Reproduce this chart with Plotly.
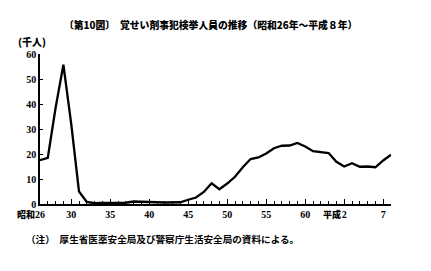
import plotly.graph_objects as go

years = list(range(1951, 1997))
arrests = [17.5, 18.5, 38.5, 55.7, 32.1, 5.0, 0.8, 0.3, 0.4, 0.5, 0.5, 0.5,
           1.0, 0.8, 0.7, 0.7, 0.6, 0.8, 0.7, 1.7, 2.6, 4.8, 8.3, 5.9, 8.2,
           10.9, 14.7, 18.0, 18.6, 20.2, 22.3, 23.3, 23.4, 24.4, 23.0, 21.1,
           20.6, 20.4, 16.9, 15.0, 16.3, 14.9, 15.0, 14.7, 17.4, 19.7]
tick_vals = [1951, 1955, 1960, 1965, 1970, 1975, 1980, 1985, 1990, 1995]
tick_text = ["26", "30", "35", "40", "45", "50", "55", "60", "2", "7"]
y_ticks = [0, 10, 20, 30, 40, 50, 60]

title = "〔第10図〕　覚せい剤事犯検挙人員の推移（昭和26年～平成８年）"
note = "（注）　厚生省医薬安全局及び警察庁生活安全局の資料による。"

num_font = dict(family="Liberation Serif", size=10, color="black", weight="bold")
jp = "Noto Sans CJK JP"

fig = go.Figure()
fig.add_trace(go.Scatter(x=years, y=arrests, mode="lines",
                         line=dict(color="black", width=2.3), showlegend=False,
                         cliponaxis=False))

fig.update_layout(
    width=431, height=271,
    margin=dict(l=40, r=40, t=54, b=67),
    paper_bgcolor="white", plot_bgcolor="white",
    xaxis=dict(range=[1951, 1996], tickvals=tick_vals, ticktext=tick_text,
               showgrid=False, zeroline=False, showline=True, linecolor="black",
               linewidth=1.5, ticks="inside", ticklen=5, tickwidth=1,
               tickcolor="black", tickfont=num_font,
               minor=dict(dtick=1, tick0=1951, ticks="inside", ticklen=3,
                          tickwidth=1, tickcolor="black", showgrid=False)),
    yaxis=dict(range=[0, 60], tickvals=y_ticks, showgrid=False, zeroline=False,
               showline=True, linecolor="black", linewidth=1.5,
               ticks="inside", ticklen=3, tickwidth=1, tickcolor="black",
               tickfont=num_font),
)

fig.add_annotation(text=title, xref="paper", yref="paper",
                   x=(210 - 40) / 351, y=(204 - 25) / 150, xanchor="center",
                   yanchor="middle", showarrow=False,
                   font=dict(family=jp, size=9.8, color="black", weight=900))
fig.add_annotation(text="(千人)", xref="paper", yref="paper",
                   x=(16 - 40) / 351, y=(204 - 41) / 150, xanchor="left",
                   yanchor="middle", showarrow=False,
                   font=dict(family=jp, size=10, color="black", weight=900))
fig.add_annotation(text=note, xref="paper", yref="paper",
                   x=(24 - 40) / 351, y=(204 - 239) / 150, xanchor="left",
                   yanchor="middle", showarrow=False,
                   font=dict(family=jp, size=9.6, color="black", weight=700))
for yr, label, shift in [(1951, "昭和", -3), (1990, "平成", -1)]:
    fig.add_annotation(text=label, x=yr, xref="x",
                       y=(204 - 214) / 150, yref="paper", xanchor="right",
                       yanchor="middle", xshift=shift, showarrow=False,
                       font=dict(family=jp, size=9, color="black", weight=900))

fig.write_html("out.html")
